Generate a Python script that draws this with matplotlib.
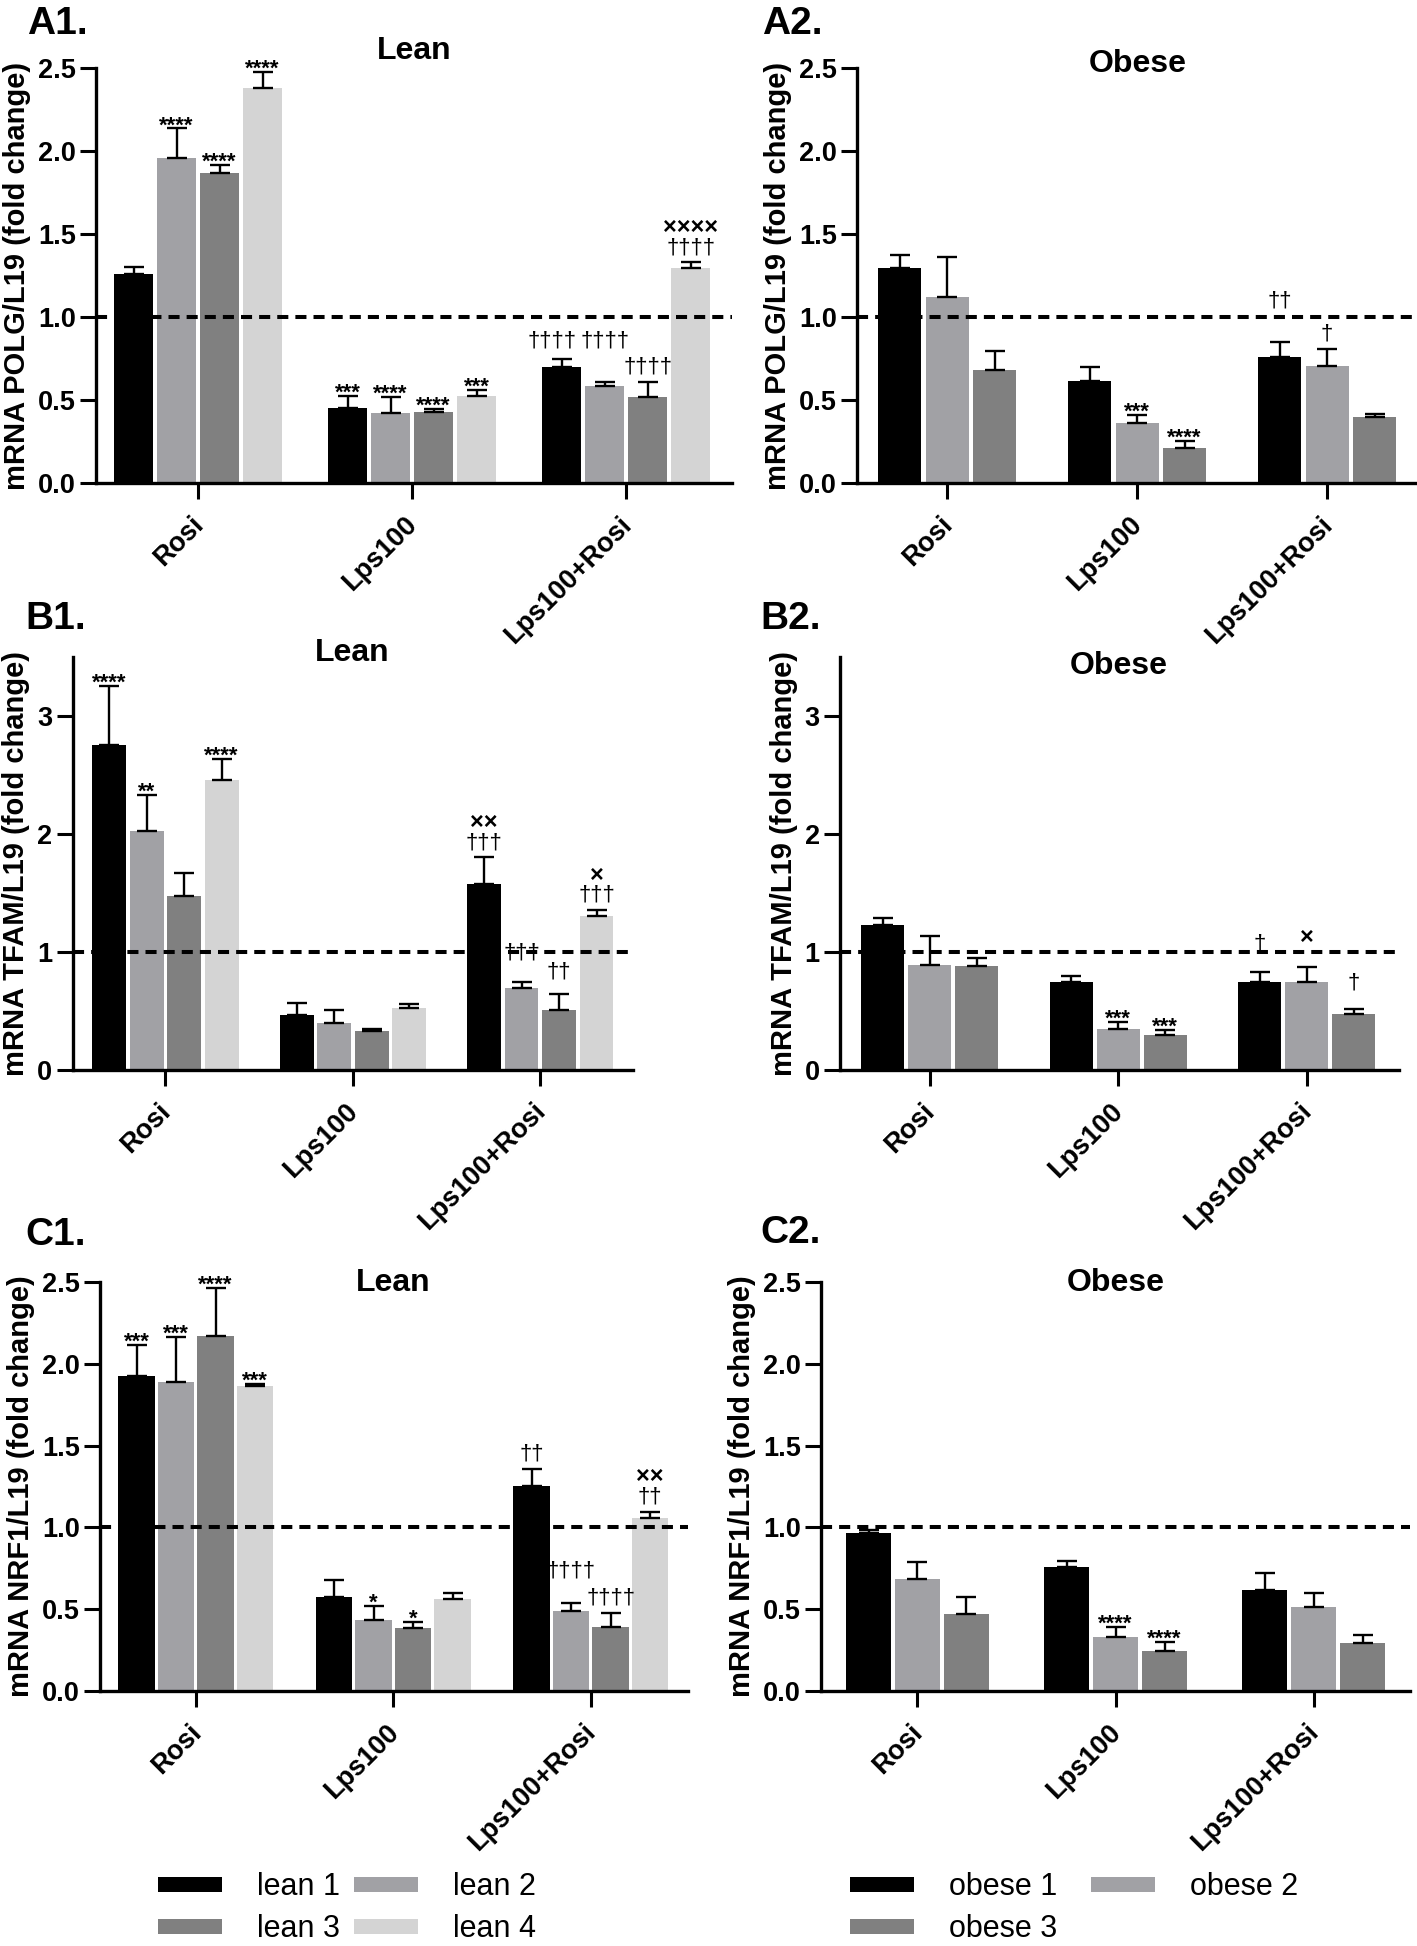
import numpy as np
import matplotlib
matplotlib.use('Agg')
import matplotlib.pyplot as plt
from matplotlib.transforms import ScaledTranslation

plt.rcParams['font.family'] = ['Liberation Sans', 'DejaVu Sans']
plt.rcParams['font.weight'] = 'bold'

W, H = 1417, 1946

groups = ['Rosi', 'Lps100', 'Lps100+Rosi']
lean_labels = ['lean 1', 'lean 2', 'lean 3', 'lean 4']
obese_labels = ['obese 1', 'obese 2', 'obese 3']
colors = ['#000000', '#a1a1a5', '#808080', '#d4d4d4']

# rows = treatment group, columns = series (mean and SEM, fold change)
polg_lean = [[1.263, 1.957, 1.869, 2.378],
             [0.456, 0.423, 0.428, 0.525],
             [0.702, 0.583, 0.522, 1.296]]
polg_lean_sem = [[0.04, 0.18, 0.05, 0.10],
                 [0.07, 0.094, 0.021, 0.035],
                 [0.048, 0.026, 0.089, 0.035]]
polg_obese = [[1.297, 1.122, 0.679],
              [0.618, 0.361, 0.214],
              [0.758, 0.704, 0.397]]
polg_obese_sem = [[0.076, 0.239, 0.12],
                  [0.081, 0.049, 0.04],
                  [0.091, 0.105, 0.018]]

tfam_lean = [[2.76, 2.022, 1.473, 2.455],
             [0.462, 0.394, 0.333, 0.523],
             [1.577, 0.692, 0.505, 1.308]]
tfam_lean_sem = [[0.494, 0.308, 0.197, 0.179],
                 [0.101, 0.115, 0.011, 0.033],
                 [0.226, 0.05, 0.137, 0.047]]
tfam_obese = [[1.229, 0.892, 0.882],
              [0.749, 0.344, 0.294],
              [0.742, 0.742, 0.47]]
tfam_obese_sem = [[0.058, 0.244, 0.064],
                  [0.05, 0.061, 0.043],
                  [0.09, 0.129, 0.046]]

nrf1_lean = [[1.924, 1.891, 2.171, 1.864],
             [0.571, 0.431, 0.382, 0.559],
             [1.251, 0.491, 0.392, 1.06]]
nrf1_lean_sem = [[0.191, 0.273, 0.293, 0.014],
                 [0.107, 0.089, 0.039, 0.039],
                 [0.109, 0.046, 0.087, 0.036]]
nrf1_obese = [[0.968, 0.685, 0.47],
              [0.76, 0.327, 0.242],
              [0.615, 0.511, 0.295]]
nrf1_obese_sem = [[0.017, 0.102, 0.104],
                  [0.036, 0.065, 0.056],
                  [0.104, 0.089, 0.049]]

# significance marks: (group, series, text)
polg_lean_notes = [(0, 1, '****'), (0, 2, '****'), (0, 3, '****'),
                   (1, 0, '***'), (1, 1, '****'), (1, 2, '****'), (1, 3, '***'),
                   (2, 0, '††††'), (2, 1, '††††'), (2, 2, '††††'), (2, 3, '××××\n††††')]
polg_obese_notes = [(1, 1, '***'), (1, 2, '****'), (2, 0, '††'), (2, 1, '†')]
tfam_lean_notes = [(0, 0, '****'), (0, 1, '**'), (0, 3, '****'),
                   (2, 0, '××\n†††'), (2, 1, '†††'), (2, 2, '††'), (2, 3, '×\n†††')]
tfam_obese_notes = [(1, 1, '***'), (1, 2, '***'), (2, 0, '†'), (2, 1, '×'), (2, 2, '†')]
nrf1_lean_notes = [(0, 0, '***'), (0, 1, '***'), (0, 2, '****'), (0, 3, '***'),
                   (1, 1, '*'), (1, 2, '*'),
                   (2, 0, '††'), (2, 1, '††††'), (2, 2, '††††'), (2, 3, '××\n††')]
nrf1_obese_notes = [(1, 1, '****'), (1, 2, '****')]

# marks that sit higher than their error bar in the original (level of the mark)
polg_lean_lift = {(2, 1): 0.80, (2, 0): 0.80}
polg_obese_lift = {(2, 0): 1.04}
tfam_lean_lift = {(2, 1): 0.91, (2, 2): 0.75}
tfam_obese_lift = {(2, 0): 0.99, (2, 1): 1.04, (2, 2): 0.66}
nrf1_lean_lift = {(2, 1): 0.68}
nrf1_obese_lift = {}


def px_rect(x0, x1, ytop, ybot):
    return [x0 / W, 1 - ybot / H, (x1 - x0) / W, (ybot - ytop) / H]


fig = plt.figure(figsize=(W / 100, H / 100), dpi=100)


def put_note(ax, x, top, text, lift, dx=0):
    lines = text.split('\n')[::-1]
    for k, line in enumerate(lines):
        if '*' in line:
            y, va, off, size, wt = top, 'baseline', -2, 16, 'bold'
        else:
            y = lift if lift is not None else top
            va, off = 'bottom', (-1 if lift is not None else 3)
            size, wt = (17, 'bold') if '×' in line else (16, 'normal')
        ax.annotate(line, xy=(x, y), xytext=(dx, off + k * 14), textcoords='offset points',
                    ha='center', va=va, fontsize=size, fontweight=wt, zorder=5)


def panel(rect, means, sems, labels, notes, lifts, ymax, yticks, fmt,
          width, step, xlim, ylabel, title, title_pos, letter, letter_pos, dx_notes=None):
    ax = fig.add_axes(px_rect(*rect))
    means = np.array(means)
    sems = np.array(sems)
    n = means.shape[1]
    gx = np.arange(len(groups))
    handles = []
    for s in range(n):
        xs = gx + (s - (n - 1) / 2) * step
        b = ax.bar(xs, means[:, s], width, color=colors[s], label=labels[s], zorder=2)
        handles.append(b)
        ax.errorbar(xs, means[:, s], yerr=[np.zeros(len(gx)), sems[:, s]], fmt='none',
                    ecolor='black', elinewidth=1.7, capsize=7, capthick=1.7, zorder=3)
    ax.axhline(1.0, color='black', lw=2.9, ls=(0, (2.75, 1.75)), zorder=4)
    for g, s, txt in notes:
        x = g + (s - (n - 1) / 2) * step
        dx = 0
        if dx_notes and (g, s) in dx_notes:
            dx = dx_notes[(g, s)]
        put_note(ax, x, means[g, s] + sems[g, s], txt, lifts.get((g, s)), dx)
    ax.set_xlim(*xlim)
    ax.set_ylim(0, ymax)
    ax.set_yticks(yticks)
    ax.set_yticklabels([fmt.format(v) for v in yticks])
    ax.set_xticks(gx)
    ax.set_xticklabels(groups, rotation=45, ha='right', va='top', rotation_mode='anchor')
    ax.tick_params(axis='both', length=11.5, width=2.2, labelsize=19.5, direction='out')
    ax.tick_params(axis='y', pad=3)
    ax.tick_params(axis='x', pad=9)
    shift = ScaledTranslation(-8 / 100, 0, fig.dpi_scale_trans)
    for lab in ax.get_xticklabels():
        lab.set_transform(lab.get_transform() + shift)
    for side in ['top', 'right']:
        ax.spines[side].set_visible(False)
    for side in ['left', 'bottom']:
        ax.spines[side].set_linewidth(2.4)
    ax.set_ylabel(ylabel, fontsize=21, fontweight='bold', labelpad=5)
    fig.text(title_pos[0] / W, 1 - title_pos[1] / H, title, ha='center', va='baseline',
             fontsize=23, fontweight='bold')
    fig.text(letter_pos[0] / W, 1 - letter_pos[1] / H, letter, ha='left', va='baseline',
             fontsize=28, fontweight='bold')
    return ax, handles


yt_a = [0, 0.5, 1.0, 1.5, 2.0, 2.5]
yt_b = [0, 1, 2, 3]

panel((96, 732, 68.2, 483.2), polg_lean, polg_lean_sem, lean_labels, polg_lean_notes,
      polg_lean_lift, 2.5, yt_a, '{:.1f}', 0.184, 0.201, (-0.477, 2.495),
      'mRNA POLG/L19 (fold change)', 'Lean', (414, 59), 'A1.', (27, 34),
      dx_notes={(2, 0): -7})
panel((857, 1415, 68.2, 483.2), polg_obese, polg_obese_sem, obese_labels, polg_obese_notes,
      polg_obese_lift, 2.5, yt_a, '{:.1f}', 0.226, 0.25, (-0.474, 2.463),
      'mRNA POLG/L19 (fold change)', 'Obese', (1138, 72), 'A2.', (762, 34))
panel((72.5, 632.7, 657.3, 1069.8), tfam_lean, tfam_lean_sem, lean_labels, tfam_lean_notes,
      tfam_lean_lift, 3.5, yt_b, '{:d}', 0.181, 0.2, (-0.495, 2.493),
      'mRNA TFAM/L19 (fold change)', 'Lean', (352, 661), 'B1.', (25, 629))
panel((840, 1399, 657.3, 1069.8), tfam_obese, tfam_obese_sem, obese_labels, tfam_obese_notes,
      tfam_obese_lift, 3.5, yt_b, '{:d}', 0.228, 0.249, (-0.475, 2.488),
      'mRNA TFAM/L19 (fold change)', 'Obese', (1119, 674), 'B2.', (760, 629))
ax_c1, h_lean = panel((100, 687.5, 1282.3, 1690.8), nrf1_lean, nrf1_lean_sem, lean_labels,
                      nrf1_lean_notes, nrf1_lean_lift, 2.5, yt_a, '{:.1f}', 0.185, 0.2,
                      (-0.486, 2.489), 'mRNA NRF1/L19 (fold change)', 'Lean', (393, 1291),
                      'C1.', (25, 1245))
ax_c2, h_obese = panel((821, 1410, 1282.3, 1690.8), nrf1_obese, nrf1_obese_sem, obese_labels,
                       nrf1_obese_notes, nrf1_obese_lift, 2.5, yt_a, '{:.1f}', 0.225, 0.247,
                       (-0.487, 2.486), 'mRNA NRF1/L19 (fold change)', 'Obese', (1116, 1291),
                       'C2.', (760, 1243))

# legends: row-wise order like the original
lean_order = [0, 2, 1, 3]
fig.legend([h_lean[i] for i in lean_order], [lean_labels[i] for i in lean_order],
           loc='upper left', bbox_to_anchor=(158 / W, 1 - 1872 / H), ncol=2, frameon=False,
           prop={'size': 22, 'weight': 'normal'}, handlelength=2.1, handleheight=0.38,
           handletextpad=1.15, columnspacing=0.44, labelspacing=0.4, borderpad=0,
           borderaxespad=0)
obese_order = [0, 2, 1]
fig.legend([h_obese[i] for i in obese_order], [obese_labels[i] for i in obese_order],
           loc='upper left', bbox_to_anchor=(850 / W, 1 - 1872 / H), ncol=2, frameon=False,
           prop={'size': 22, 'weight': 'normal'}, handlelength=2.1, handleheight=0.38,
           handletextpad=1.15, columnspacing=1.08, labelspacing=0.4, borderpad=0,
           borderaxespad=0)

fig.savefig('out.png', dpi=100, facecolor='white')
